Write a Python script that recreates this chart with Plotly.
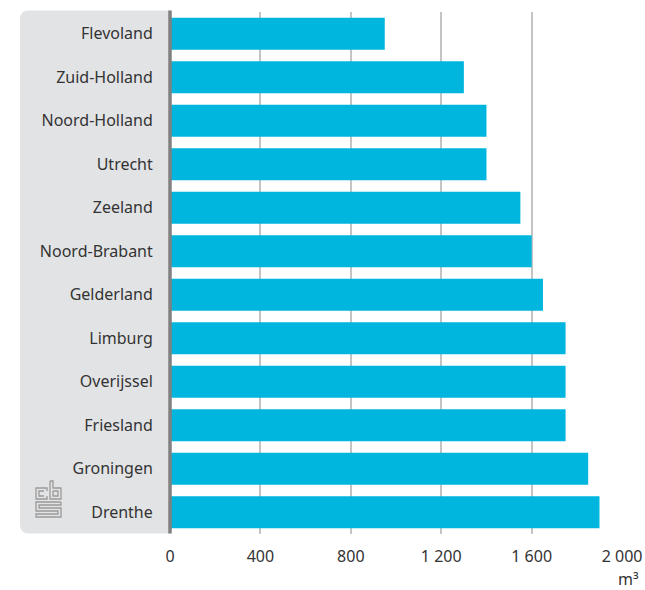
import plotly.graph_objects as go

provinces = ["Flevoland", "Zuid-Holland", "Noord-Holland", "Utrecht", "Zeeland",
             "Noord-Brabant", "Gelderland", "Limburg", "Overijssel", "Friesland",
             "Groningen", "Drenthe"]
values = [950, 1300, 1400, 1400, 1550, 1600, 1650, 1750, 1750, 1750, 1850, 1900]
tick_vals = [0, 400, 800, 1200, 1600, 2000]
tick_text = ["0", "400", "800", "1 200", "1 600", "2 000"]
unit_label = "m³"

W, H = 645, 590
ML, MR, MT, MB = 170, 22, 12, 56
PW, PH = W - ML - MR, H - MT - MB


def px(x):
    return (x - ML) / PW


def py(y):
    return (H - MB - y) / PH


BLUE = "#00b6de"
PANEL = "#e2e3e5"
TEXT = "#333333"
FONT = "Noto Sans"
FS = 16

fig = go.Figure(go.Bar(
    x=values, y=provinces, orientation="h",
    marker=dict(color=BLUE, line=dict(width=0)),
    hoverinfo="x+y",
))

shapes = []
# grey rounded label panel
x0, x1, y0, y1, r = 20, 170, 10.5, 533.5, 9
path = (f"M {px(x1)},{py(y0)} L {px(x0 + r)},{py(y0)} "
        f"Q {px(x0)},{py(y0)} {px(x0)},{py(y0 + r)} "
        f"L {px(x0)},{py(y1 - r)} Q {px(x0)},{py(y1)} {px(x0 + r)},{py(y1)} "
        f"L {px(x1)},{py(y1)} Z")
shapes.append(dict(type="path", xref="paper", yref="paper", path=path,
                   fillcolor=PANEL, line=dict(width=0), layer="below"))
# dark zero line
shapes.append(dict(type="line", xref="paper", yref="paper",
                   x0=px(170), x1=px(170), y0=py(10.5), y1=py(533.5),
                   line=dict(color="#808080", width=3.5)))

# CBS logo (approximate outline)
logo_col = "#9a9a9a"
logo_paths = [
    # c
    [(47, 491), (47, 488), (36, 488), (36, 499), (47, 499), (47, 496)],
    [(44, 491), (39, 491), (39, 496), (44, 496)],
    # b
    [(50, 481), (50, 499), (61, 499), (61, 488), (53, 488), (53, 481), (50, 481)],
    [(53, 491), (58, 491), (58, 496), (53, 496), (53, 491)],
    # S
    [(61, 502), (36, 502), (36, 511), (58, 511), (58, 514), (36, 514), (36, 517), (61, 517),
     (61, 508), (39, 508), (39, 505), (61, 505), (61, 502)],
]
for pts in logo_paths:
    d = "M " + " L ".join(f"{px(a)},{py(b)}" for a, b in pts)
    shapes.append(dict(type="path", xref="paper", yref="paper", path=d,
                       line=dict(color=logo_col, width=1.3), fillcolor="rgba(0,0,0,0)"))

fig.update_layout(
    width=W, height=H, autosize=False,
    margin=dict(l=ML, r=MR, t=MT, b=MB, pad=0, autoexpand=False),
    paper_bgcolor="white", plot_bgcolor="white",
    bargap=0.26,
    showlegend=False,
    font=dict(family=FONT, size=FS, color=TEXT),
    shapes=shapes,
    xaxis=dict(range=[0, 2004], tickvals=tick_vals, ticktext=tick_text,
               showgrid=True, gridcolor="#c4c4c4", gridwidth=1.5,
               zeroline=False, showline=False, automargin=False,
               ticks="outside", ticklen=8, tickcolor="rgba(0,0,0,0)",
               tickfont=dict(size=FS, color=TEXT), fixedrange=True),
    yaxis=dict(autorange="reversed", showgrid=False, zeroline=False, showline=False,
               automargin=False,
               ticks="outside", ticklen=13, tickcolor="rgba(0,0,0,0)",
               tickfont=dict(size=FS, color=TEXT), fixedrange=True),
    annotations=[dict(text=unit_label, xref="paper", yref="paper",
                      x=px(641), y=py(579), xanchor="right", yanchor="middle",
                      showarrow=False, font=dict(size=FS, color=TEXT))],
)

fig.write_html("out.html",
               config=dict(displayModeBar=False, responsive=False),
               post_script="document.body.style.margin='0px';")
